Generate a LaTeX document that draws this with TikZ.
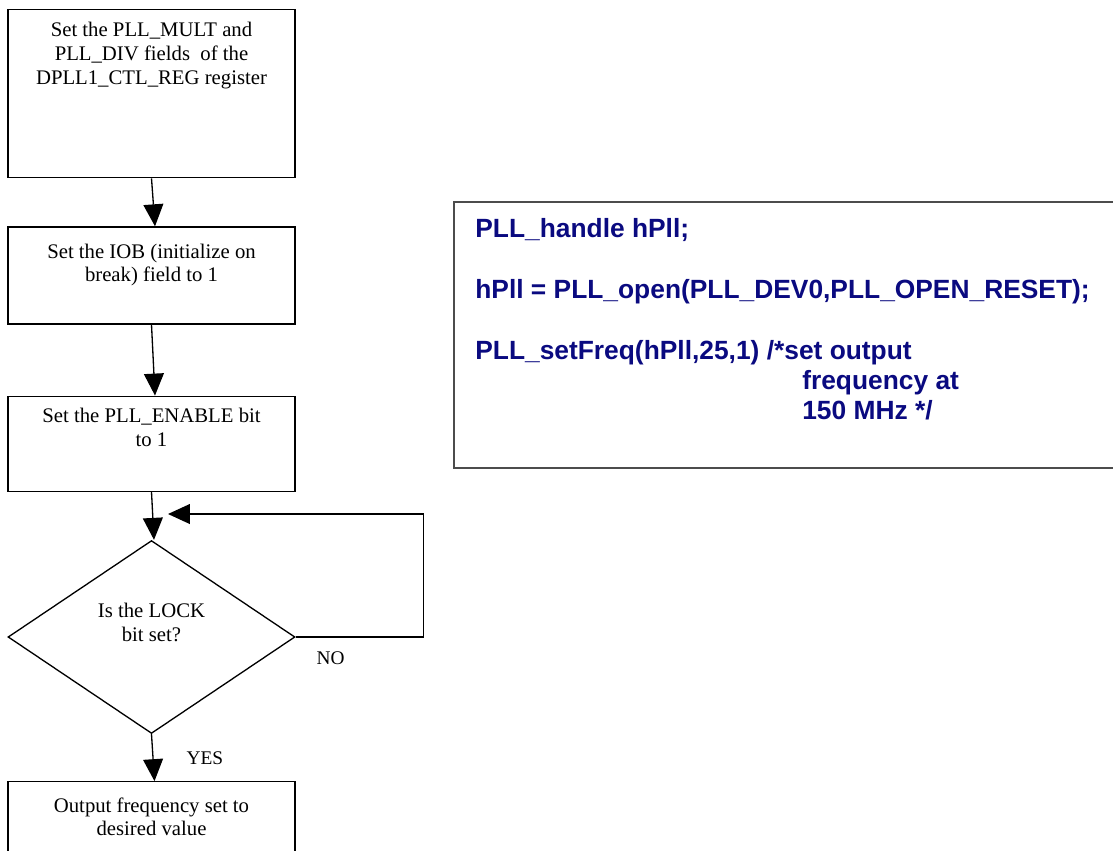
\documentclass[tikz,border=0pt]{standalone}
\usepackage{fontspec}
\setmainfont{Liberation Serif}
\newfontfamily\kodfont{Liberation Sans}
\usetikzlibrary{positioning,arrows.meta,shapes.geometric}
\definecolor{kodmodra}{RGB}{10,10,128}
\tikzset{
  blok/.style={draw,line width=0.75pt,minimum width=5.74cm,inner sep=0pt},
  kosoc/.style={diamond,draw,line width=0.75pt,minimum width=5.74cm,minimum height=3.86cm,inner sep=0pt},
  popis/.style={align=center,font=\fontsize{11.8}{13.6}\selectfont,inner sep=0pt,anchor=north},
  znacka/.style={font=\fontsize{11}{13}\selectfont,inner sep=0pt,anchor=base},
  sipka/.style={-{Triangle[width=11.3pt,length=12.5pt]},line width=0.75pt},
  kod/.style={draw=black!70,line width=1.1pt,minimum width=14cm,minimum height=5.32cm,anchor=north west},
  kodtext/.style={align=left,anchor=north west,inner sep=0pt,text=kodmodra,font=\kodfont\bfseries\fontsize{15}{17.3}\selectfont},
}
\begin{document}
\begin{tikzpicture}[x=0.02cm,y=-0.02cm,node distance=0.96cm]
  \useasboundingbox (0,0) rectangle (1113,850);
  % vyvojovy diagram
  \node[blok,minimum height=3.36cm,anchor=north] (b1) at (151.5,9) {};
  \node[blok,minimum height=1.94cm] (b2) [below=0.96cm of b1] {};
  \node[blok,minimum height=1.9cm] (b3) [below=1.42cm of b2] {};
  \node[kosoc] (d) [below=0.96cm of b3] {};
  \node[blok,minimum height=1.6cm] (b4) [below=0.94cm of d] {};
  \node[popis] (t1) at ([yshift=-0.26cm]b1.north) {Set the PLL\_MULT and\\PLL\_DIV fields\ \ of the\\DPLL1\_CTL\_REG register};
  \node[popis] (t2) at ([yshift=-0.34cm]b2.north) {Set the IOB (initialize on\\break) field to 1};
  \node[popis] (t3) at ([yshift=-0.24cm]b3.north) {Set the PLL\_ENABLE bit\\to 1};
  \node[popis] (q) at ([yshift=0.68cm]d.center) {Is the LOCK\\bit set?};
  \node[popis] (t4) at ([yshift=-0.32cm]b4.north) {Output frequency set to\\desired value};
  \node[znacka] (no) at ([xshift=0.7cm,yshift=-0.56cm]d.east) {NO};
  \node[znacka] (yes) at ([xshift=1.07cm,yshift=-0.6cm]d.south) {YES};
  \draw[sipka] (b1.south) -- ([xshift=0.07cm]b2.north);
  \draw[sipka] (b2.south) -- ([xshift=0.07cm]b3.north);
  \draw[sipka] (b3.south) -- ([xshift=0.05cm]d.north);
  \draw[sipka] (d.south) -- ([xshift=0.06cm]b4.north);
  \coordinate (zpet) at (168,514);
  \draw[sipka] (d.east) -- ++(128,0) |- (zpet);
  % kod
  \node[kod] (k) at (453,201) {};
  \node[kodtext] (kt) at (475,218) {PLL\_handle hPll;\\[17.3pt]hPll = PLL\_open(PLL\_DEV0,PLL\_OPEN\_RESET);\\[17.3pt]PLL\_setFreq(hPll,25,1) /*set output\\\hspace*{6.54cm}frequency at\\\hspace*{6.54cm}150 MHz */};
\end{tikzpicture}
\end{document}
